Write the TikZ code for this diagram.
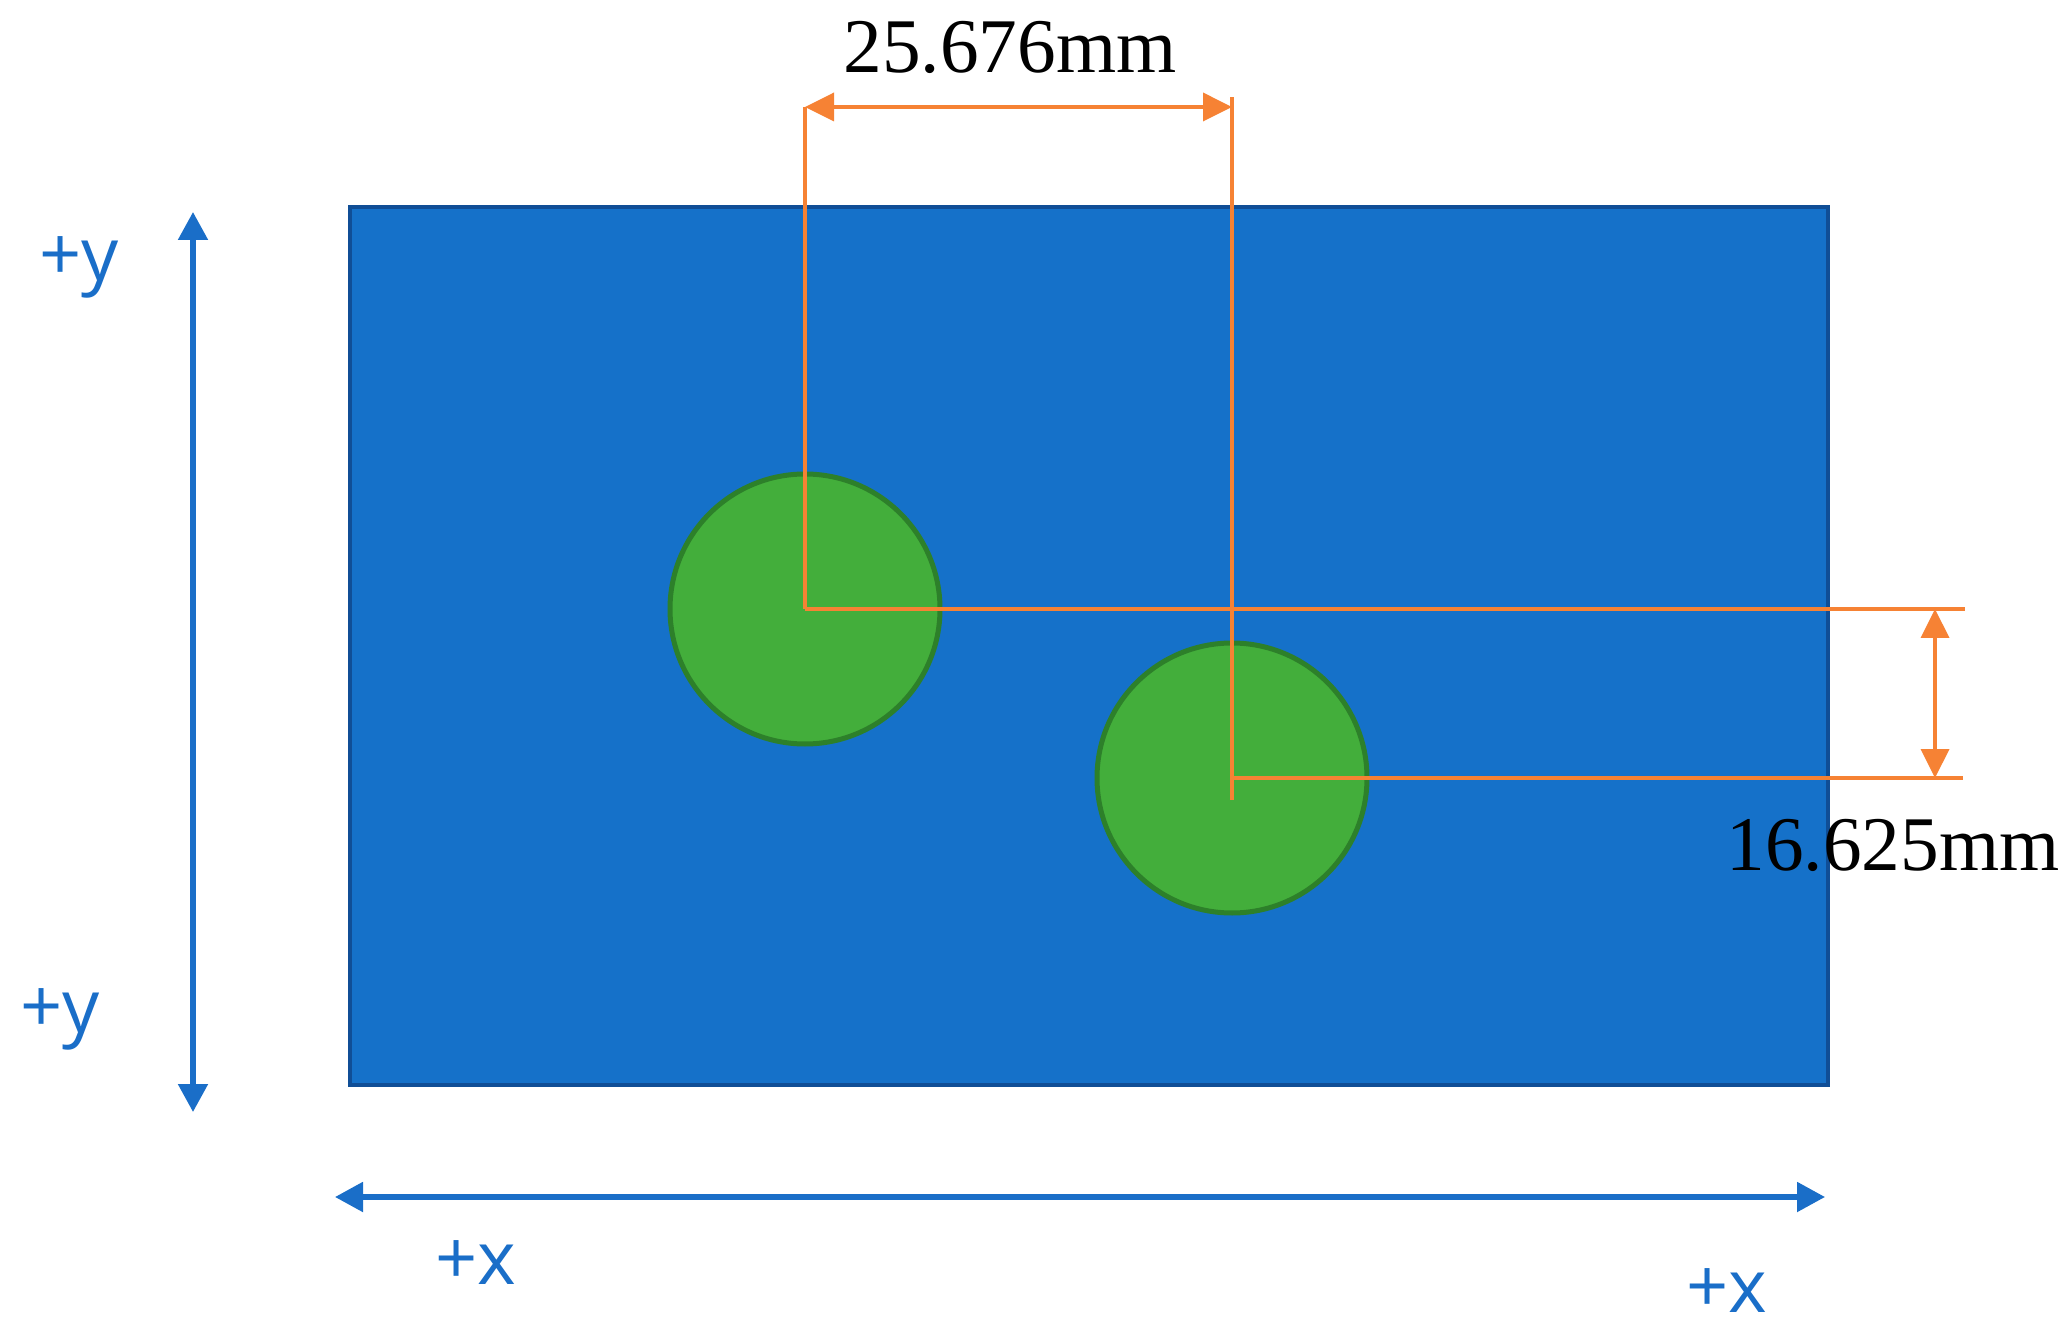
\documentclass[tikz,border=0pt]{standalone}
\usepackage{fontspec}
\setmainfont{Liberation Serif}
\newfontfamily\axisfont{Open Sans}
\usetikzlibrary{arrows.meta}
\definecolor{plateblue}{RGB}{21,113,201}
\definecolor{plateedge}{RGB}{16,78,150}
\definecolor{holegreen}{RGB}{67,174,59}
\definecolor{holeedge}{RGB}{45,128,42}
\definecolor{dimorange}{RGB}{246,130,52}
\definecolor{axisblue}{RGB}{26,110,200}
\tikzset{
        plate/.style={fill=plateblue, draw=plateedge, line width=0.35mm},
        hole/.style={circle, fill=holegreen, draw=holeedge, line width=0.5mm, minimum size=2.7cm, inner sep=0pt},
        extline/.style={draw=dimorange, line width=1.05pt},
        dimarrow/.style={extline, >={Triangle[length=2.9mm, width=2.8mm]}, <->},
        dimlabel/.style={text=black, font=\fontsize{22}{26}\selectfont},
        axis/.style={draw=axisblue, line width=1.5pt, >={Triangle[length=2.8mm, width=2.9mm]}, <->},
        axislabel/.style={text=axisblue, font=\axisfont\fontsize{21}{25}\selectfont}
          }
\begin{document}
\begin{tikzpicture}
        \useasboundingbox (0,0) rectangle (20.70,13.33);
        \draw[plate] (3.50,2.48) rectangle (18.28,11.26);
        \node[hole] (h1) at (8.05,7.24) {};
        \node[hole] (h2) at (12.32,5.55) {};
        \coordinate (a1) at (8.05,12.26);
        \coordinate (a2) at (12.32,12.26);
        \coordinate (e2) at (12.32,12.36);
        \coordinate (e2b) at (12.32,5.33);
        \coordinate (r1) at (19.65,7.24);
        \coordinate (r2) at (19.63,5.55);
        \coordinate (b1) at (19.35,7.24);
        \coordinate (b2) at (19.35,5.55);
        \draw[extline] (h1.center) -- (a1);
        \draw[extline] (e2b) -- (e2);
        \draw[extline] (h1.center) -- (r1);
        \draw[extline] (h2.center) -- (r2);
        \draw[dimarrow] (a1) -- (a2);
        \draw[dimarrow] (b1) -- (b2);
        \node[dimlabel, anchor=base] (dx) at (10.10,12.60) {25.676mm};
        \node[dimlabel, anchor=base] (dy) at (18.93,4.63) {16.625mm};
        \coordinate (yt) at (1.93,11.21);
        \coordinate (yb) at (1.93,2.21);
        \coordinate (xl) at (3.35,1.36);
        \coordinate (xr) at (18.25,1.36);
        \draw[axis] (yb) -- (yt);
        \draw[axis] (xl) -- (xr);
        \node[axislabel] (ytop) at (0.79,10.66) {+y};
        \node[axislabel] (ybot) at (0.60,3.14) {+y};
        \node[axislabel] (xleft) at (4.76,0.70) {+x};
        \node[axislabel] (xright) at (17.27,0.42) {+x};
      \end{tikzpicture}
\end{document}
